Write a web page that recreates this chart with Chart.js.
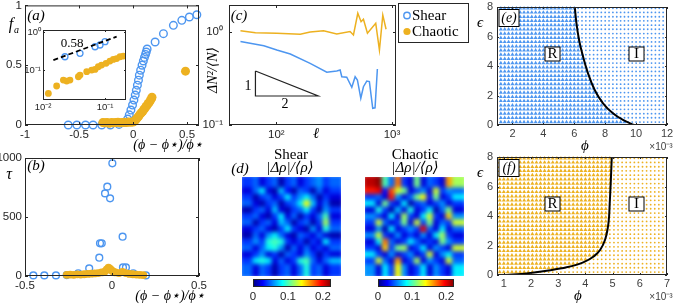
<!DOCTYPE html>
<html><head><meta charset="utf-8">
<script src="https://cdn.jsdelivr.net/npm/chart.js@4.4.1/dist/chart.umd.min.js"></script>
<style>
html,body{margin:0;padding:0;background:#fff;}
#wrap{position:relative;width:690px;height:305px;overflow:hidden;background:#fff;}
#wrap canvas{position:absolute;}
.clip{position:absolute;overflow:hidden;}
.clip canvas{filter:blur(2.1px);}
</style></head>
<body><div id="wrap"></div>
<script>
// ================= DATA =================
const seriesNames = ['Shear', 'Chaotic'];
// (a) main
const aShearX = [-0.60,-0.52,-0.44,-0.37,-0.29,-0.21,-0.13,-0.08,-0.05,-0.035,-0.02,-0.005,0.008,0.02,0.03,0.04,0.05,0.058,0.07,0.083,0.095,0.105,0.115,0.122,0.13,0.204,0.281,0.373,0.451,0.521,0.59];
const aShearY = [0,0,0,0,0,0,0.005,0.02,0.05,0.085,0.125,0.167,0.208,0.25,0.29,0.333,0.375,0.417,0.458,0.5,0.535,0.565,0.59,0.61,0.635,0.694,0.764,0.833,0.875,0.903,0.922];
const aChaosX = [-0.28,-0.26,-0.24,-0.22,-0.20,-0.18,-0.16,-0.14,-0.12,-0.10,-0.08,-0.06,-0.04,-0.02,0.0,0.01,0.02,0.03,0.04,0.05,0.06,0.07,0.08,0.09,0.10,0.11,0.12,0.13,0.14,0.15,0.16,0.17,0.175,0.485];
const aChaosY = [0.02,0.018,0.02,0.015,0.02,0.018,0.02,0.022,0.018,0.02,0.022,0.02,0.025,0.022,0.025,0.03,0.04,0.05,0.06,0.07,0.085,0.095,0.105,0.115,0.13,0.14,0.155,0.165,0.18,0.19,0.205,0.22,0.232,0.45];
const aXTicks = [-1,-0.5,0,0.5], aXLabels = ['-1','-0.5','0','0.5'];
const aYTicks = [0,0.5,1], aYLabels = ['0','0.5','1'];
// (a) inset
const insShearX = [0.0226,0.0395,0.069,0.083,0.1];
const insShearY = [0.224,0.275,0.41,0.455,0.557];
const insChaosX = [0.0122,0.0166,0.0213,0.0241,0.0272,0.0372,0.0395,0.0507,0.061,0.069,0.078,0.088,0.104,0.12,0.136,0.154,0.175,0.197];
const insChaosY = [0.0243,0.038,0.0546,0.0514,0.0546,0.0667,0.0738,0.0904,0.1,0.104,0.122,0.135,0.15,0.172,0.19,0.2,0.224,0.233];
const insFitX = [0.0147,0.154], insFitY = [0.183,0.753];
const insFitLabel = '0.58';
const insXTicks = [0.01,0.1], insXLabels = ['10⁻²','10⁻¹'];
const insYTicks = [0.1,1], insYLabels = ['10⁻¹','10⁰'];
// (b)
const bShearX = [-0.452,-0.389,-0.322,-0.26,-0.194,-0.131,-0.073,-0.069,-0.059,-0.040,-0.027,-0.011,0.002,0.061,0.063,0.080,0.122,0.195];
const bShearY = [5,5,5,8,23,65,155,277,277,700,757,658,955,333,73,73,23,5];
const bChaosX = [-0.26,-0.24,-0.22,-0.20,-0.18,-0.16,-0.14,-0.12,-0.10,-0.08,-0.06,-0.04,-0.03,-0.02,-0.01,0,0.01,0.02,0.04,0.06,0.08,0.10,0.12,0.14,0.16,0.18];
const bChaosY = [10,12,10,14,12,15,18,20,22,25,30,40,55,70,60,45,35,30,25,35,25,18,15,12,10,8];
const bXTicks = [-0.5,0,0.5], bXLabels = ['-0.5','0','0.5'];
const bYTicks = [0,500,1000], bYLabels = ['0','500','1000'];
// (c)
const cShearX = [49,78,101,132,196,273,333,356,368,406,449,480,502,537,566,605,637,681,713,747];
const cShearY = [0.79,0.71,0.64,0.58,0.46,0.37,0.38,0.39,0.33,0.326,0.254,0.33,0.305,0.194,0.258,0.297,0.293,0.151,0.153,0.40];
const cChaosX = [49,66,101,161,196,256,333,434,464,506,540,566,613,723,778,832,888];
const cChaosY = [1.03,0.98,0.97,0.945,1.0,1.03,0.95,1.01,0.93,1.59,1.29,1.37,0.97,1.24,0.64,1.52,1.07];
const cTriX = [66,66,230,66], cTriY = [0.381,0.205,0.205,0.381];
const cXTicks = [100,1000], cXLabels = ['10²','10³'];
const cYTicks = [0.1,1], cYLabels = ['10⁻¹','10⁰'];
// (d) density maps (values in units of 0.01)
const shearMap = [
 [4,5,2,4,5,1,4,5,2,4,5,6,4,5],
 [2,5,8,2,1,7,3,1,5,4,1,5,2,4],
 [4,1,4,5,2,4,8,4,6,8,5,1,4,2],
 [5,2,1,4,5,1,4,5,8,14,7,2,5,1],
 [1,4,5,2,7,2,1,4,5,8,4,1,6,4],
 [4,5,2,1,4,8,2,5,1,4,2,5,10,2],
 [5,1,4,5,2,7,5,1,4,5,1,4,12,4],
 [2,4,5,2,1,4,8,4,2,1,6,2,9,5],
 [1,5,2,6,8,5,2,1,5,4,2,5,2,1],
 [4,6,4,9,10,9,4,2,4,1,4,2,8,4],
 [5,2,5,8,9,6,1,5,2,5,2,4,2,5],
 [2,4,6,2,4,1,5,4,2,6,4,1,4,2],
 [4,8,9,8,2,5,2,4,9,10,5,2,5,7],
 [5,2,5,4,1,4,5,2,5,9,4,5,2,4]];
const chaosMap = [
 [21,22,10,5,17,4,2,11,2,5,4,2,16,12],
 [19,20,3,18,13,11,2,4,6,2,13,4,6,5],
 [4,5,2,19,6,2,5,11,14,3,11,2,4,8],
 [8,2,11,4,2,8,1,4,5,2,4,6,2,4],
 [2,9,4,1,7,2,9,2,4,8,1,5,11,2],
 [6,4,2,8,2,12,4,2,8,13,4,2,15,6],
 [4,13,5,2,4,11,2,13,4,11,2,5,4,13],
 [2,6,1,8,2,4,6,4,20,5,2,8,2,5],
 [6,13,4,2,6,2,4,2,6,2,8,12,4,2],
 [2,8,17,5,2,4,8,5,2,4,2,11,6,4],
 [4,2,15,4,11,12,2,4,8,2,6,4,2,13],
 [8,4,2,6,2,4,6,2,4,13,2,6,8,4],
 [4,13,5,2,16,2,4,12,2,6,4,2,13,5],
 [6,2,8,4,14,6,2,4,8,2,6,4,2,8]];
const cbMax = 0.223;
const cbTicks = [0,0.1,0.2], cbLabels = ['0','0.1','0.2'];
// (e) phase diagram, shear
const ePhi = [1.25,1.5,1.75,2,2.25,2.5,2.75,3,3.25,3.5,3.75,4,4.25,4.5,4.75,5,5.25,5.5,5.75,6,6.25,6.5,6.75,7,7.25,7.5,7.75,8,8.25,8.5,8.75,9,9.25,9.5,9.75,10,10.25,10.5,10.75,11,11.25,11.5,11.75];
const eEps = [0.2,0.49,0.77,1.06,1.34,1.63,1.91,2.2,2.49,2.77,3.06,3.34,3.63,3.91,4.2,4.49,4.77,5.06,5.34,5.63,5.91,6.2,6.49,6.77,7.06,7.34,7.63,7.91];
const eBound = [9.45,8.93,8.53,8.22,7.97,7.76,7.59,7.42,7.27,7.16,7.06,6.95,6.85,6.77,6.69,6.61,6.54,6.47,6.40,6.34,6.29,6.24,6.19,6.16,6.12,6.09,6.06,6.04];
const eCurvePhi = [6.03,6.14,6.31,6.57,6.89,7.32,7.86,8.5,9.15,9.85];
const eCurveEps = [8.0,6.9,5.76,4.63,3.5,2.37,1.47,0.79,0.34,0];
const eXTicks = [2,4,6,8,10,12], eXLabels = ['2','4','6','8','10','12'];
// (f) phase diagram, chaotic
const fPhi = [0.85,1,1.15,1.3,1.45,1.6,1.75,1.9,2.05,2.2,2.35,2.5,2.65,2.8,2.95,3.1,3.25,3.4,3.55,3.7,3.85,4,4.15,4.3,4.45,4.6,4.75,4.9,5.05,5.2,5.35,5.5,5.65,5.8,5.95,6.1,6.25,6.4,6.55,6.7,6.85];
const fEps = eEps;
const fBound = [2.2,3.22,3.76,4.12,4.35,4.51,4.6,4.68,4.74,4.77,4.81,4.83,4.85,4.87,4.88,4.88,4.89,4.9,4.9,4.91,4.92,4.93,4.93,4.94,4.95,4.95,4.96,4.97];
const fCurvePhi = [1.11,1.84,2.58,3.31,3.92,4.29,4.54,4.72,4.81,4.87,4.90,4.93,4.97];
const fCurveEps = [0,0.11,0.29,0.52,0.86,1.24,1.69,2.37,3.05,3.95,5.08,6.19,8.0];
const fXTicks = [1,2,3,4,5,6,7], fXLabels = ['1','2','3','4','5','6','7'];
const peYTicks = [0,2,4,6,8], peYLabels = ['0','2','4','6','8'];

// ================= SETUP =================
const W = 690, H = 305;
const SANS = '"Liberation Sans", Arial, Helvetica, sans-serif';
const SERIF = '"Liberation Serif", "Times New Roman", "DejaVu Serif", serif';
const BLUE = '#4d96f0', ORANGE = '#edb120', AXC = '#262626';
Chart.defaults.animation = false;
Chart.defaults.responsive = false;
Chart.defaults.events = [];
Chart.defaults.plugins.legend.display = false;
Chart.defaults.plugins.tooltip.enabled = false;
const wrap = document.getElementById('wrap');
const zip = (xs, ys) => xs.map((x, i) => ({x, y: ys[i]}));

function addCanvas(w, h, parent, l, t) {
  const c = document.createElement('canvas');
  c.width = w; c.height = h; c.style.width = w + 'px'; c.style.height = h + 'px';
  c.style.left = (l || 0) + 'px'; c.style.top = (t || 0) + 'px';
  (parent || wrap).appendChild(c);
  return c;
}
function jet(t) {
  t = Math.max(0, Math.min(1, t));
  const cl = v => Math.max(0, Math.min(1, v));
  const r = cl(1.5 - Math.abs(4 * t - 3)), g = cl(1.5 - Math.abs(4 * t - 2)), b = cl(1.5 - Math.abs(4 * t - 1));
  return 'rgb(' + Math.round(r * 255) + ',' + Math.round(g * 255) + ',' + Math.round(b * 255) + ')';
}
// axis: fixed box size (read from canvas dataset) so the plot area lands exactly where wanted
function ax(type, min, max, ticks, labels, extra) {
  const o = {type, min, max, bounds: 'data',
    afterBuildTicks: s => { s.ticks = ticks.map(v => ({value: v})); },
    afterFit: s => { const d = s.chart.canvas.dataset;
      if (s.isHorizontal()) s.height = +d.xh; else s.width = +d.yw;
      s.paddingLeft = 0; s.paddingRight = 0; s.paddingTop = 0; s.paddingBottom = 0; },
    grid: {display: false, drawTicks: false}, border: {display: false},
    ticks: {autoSkip: false, maxRotation: 0, minRotation: 0, padding: 3, color: AXC,
      font: {family: SANS, size: 11.5}, callback: (v, i) => labels[i]}};
  if (extra) {
    if (extra.ticks) { Object.assign(o.ticks, extra.ticks); }
    for (const k in extra) if (k !== 'ticks') o[k] = extra[k];
  }
  return o;
}
// frame + inward tick marks
const boxPlugin = {id: 'box',
  beforeDatasetsDraw(chart, args, o) {
    if (!o || !o.bg) return;
    const a = chart.chartArea, ctx = chart.ctx;
    ctx.save(); ctx.fillStyle = o.bg; ctx.fillRect(a.left, a.top, a.width, a.height); ctx.restore();
  },
  afterDatasetsDraw(chart, args, o) {
    if (!o || !o.on) return;
    const a = chart.chartArea, ctx = chart.ctx, L = o.len || 0;
    ctx.save(); ctx.strokeStyle = o.color || AXC; ctx.lineWidth = 1;
    ctx.strokeRect(a.left + 0.5, a.top + 0.5, a.width - 1, a.height - 1);
    if (L) {
      ctx.beginPath();
      const sx = chart.scales.x, sy = chart.scales.y;
      sx.ticks.forEach(t => { const p = Math.round(sx.getPixelForValue(t.value)) + 0.5;
        ctx.moveTo(p, a.bottom); ctx.lineTo(p, a.bottom - L); ctx.moveTo(p, a.top); ctx.lineTo(p, a.top + L); });
      sy.ticks.forEach(t => { const p = Math.round(sy.getPixelForValue(t.value)) + 0.5;
        ctx.moveTo(a.left, p); ctx.lineTo(a.left + L, p); ctx.moveTo(a.right, p); ctx.lineTo(a.right - L, p); });
      ctx.stroke();
    }
    ctx.restore();
  }};
// annotation texts
const txtPlugin = {id: 'txt',
  afterDraw(chart, args, o) {
    if (!o || !o.items) return;
    const ctx = chart.ctx;
    for (const it of o.items) {
      ctx.save(); ctx.font = it.f; ctx.textAlign = it.a || 'center'; ctx.textBaseline = 'middle';
      ctx.translate(it.x, it.y); if (it.r) ctx.rotate(it.r);
      if (it.bw) { ctx.fillStyle = '#fff'; ctx.strokeStyle = '#000'; ctx.lineWidth = 1;
        ctx.fillRect(-it.bw / 2, -it.bh / 2, it.bw, it.bh); ctx.strokeRect(-it.bw / 2, -it.bh / 2, it.bw, it.bh); }
      ctx.fillStyle = it.c || '#000'; ctx.fillText(it.t, 0, it.dy || 0); ctx.restore();
    }
  }};
// legend of panel (c)
const lgPlugin = {id: 'lg',
  afterDraw(chart, args, o) {
    if (!o || !o.on) return;
    const ctx = chart.ctx;
    ctx.save(); ctx.fillStyle = '#fff'; ctx.strokeStyle = AXC; ctx.lineWidth = 1;
    ctx.fillRect(398.5, 3.5, 70, 39); ctx.strokeRect(398.5, 3.5, 70, 39);
    ctx.beginPath(); ctx.arc(407, 15.5, 3.2, 0, 2 * Math.PI); ctx.strokeStyle = BLUE; ctx.lineWidth = 1.4; ctx.stroke();
    ctx.beginPath(); ctx.arc(407, 31.5, 3.6, 0, 2 * Math.PI); ctx.fillStyle = ORANGE; ctx.fill();
    ctx.fillStyle = '#000'; ctx.font = '15px ' + SERIF; ctx.textAlign = 'left'; ctx.textBaseline = 'middle';
    ctx.fillText(seriesNames[0], 412, 16); ctx.fillText(seriesNames[1], 412, 32);
    ctx.restore();
  }};
Chart.register(boxPlugin, txtPlugin, lgPlugin);

// area = plot rectangle [left, top, right, bottom] in page pixels
function mk(area, cfg, noY) {
  const c = addCanvas(W, H);
  const yw = noY ? 0 : Math.min(area[0], 48);
  const xh = Math.min(H - area[3], 22);
  c.dataset.yw = yw; c.dataset.xh = xh;
  cfg.options = cfg.options || {};
  cfg.options.layout = {padding: {left: area[0] - yw, top: area[1], right: W - area[2], bottom: H - area[3] - xh}};
  return new Chart(c, cfg);
}
const IT = (t, x, y, f, extra) => Object.assign({t, x, y, f}, extra || {});

// ================= (a) =================
mk([25, 5, 199, 125], {type: 'scatter',
  data: {datasets: [
    {data: zip(aChaosX, aChaosY), pointRadius: 4.5, backgroundColor: ORANGE, borderWidth: 0, clip: false},
    {data: zip(aShearX, aShearY), pointRadius: 3.8, borderColor: BLUE, borderWidth: 1.4, backgroundColor: 'rgba(0,0,0,0)', clip: false}]},
  options: {scales: {x: ax('linear', -1, 0.61, aXTicks, aXLabels), y: ax('linear', 0, 1, aYTicks, aYLabels)},
    plugins: {box: {on: true, len: 3}, txt: {items: [
      IT('(a)', 36, 16, 'italic 15px ' + SERIF),
      IT('f', 11, 25, 'italic 16px ' + SERIF), IT('a', 16.5, 30, 'italic 10px ' + SERIF),
      IT('(ϕ − ϕ⋆)/ϕ⋆', 168, 145, 'italic 14px ' + SERIF)]}}}});
// inset
mk([43, 30, 126, 100], {type: 'scatter',
  data: {datasets: [
    {data: zip(insFitX, insFitY), showLine: true, borderColor: '#000', borderWidth: 1.8, borderDash: [5, 3], pointRadius: 0},
    {data: zip(insChaosX, insChaosY), pointRadius: 3.4, backgroundColor: ORANGE, borderWidth: 0},
    {data: zip(insShearX, insShearY), pointRadius: 3, borderColor: BLUE, borderWidth: 1.3, backgroundColor: 'rgba(0,0,0,0)'}]},
  options: {scales: {
      x: ax('logarithmic', 0.01, 0.218, insXTicks, insXLabels, {ticks: {font: {family: SANS, size: 9.5}, padding: 2}}),
      y: ax('logarithmic', 0.0163, 1.13, insYTicks, insYLabels, {ticks: {font: {family: SANS, size: 9.5}, padding: 2}})},
    plugins: {box: {on: true, len: 2, bg: '#fff'}, txt: {items: [IT(insFitLabel, 72, 44, '13px ' + SERIF)]}}}});

// ================= (b) =================
mk([25, 158, 199, 276], {type: 'scatter',
  data: {datasets: [
    {data: zip(bChaosX, bChaosY), pointRadius: 3.9, backgroundColor: ORANGE, borderWidth: 0, clip: false},
    {data: zip(bShearX, bShearY), pointRadius: 3.4, borderColor: BLUE, borderWidth: 1.4, backgroundColor: 'rgba(0,0,0,0)', clip: false}]},
  options: {scales: {x: ax('linear', -0.5, 0.5, bXTicks, bXLabels), y: ax('linear', 0, 1000, bYTicks, bYLabels)},
    plugins: {box: {on: true, len: 3}, txt: {items: [
      IT('(b)', 36, 166, 'italic 15px ' + SERIF),
      IT('τ', 9, 175, 'italic 16px ' + SERIF),
      IT('(ϕ − ϕ⋆)/ϕ⋆', 170, 296, 'italic 14px ' + SERIF)]}}}});

// ================= (c) =================
mk([229, 5, 396, 125], {type: 'scatter',
  data: {datasets: [
    {data: zip(cTriX, cTriY), showLine: true, borderColor: '#222', borderWidth: 1.2, pointRadius: 0},
    {data: zip(cChaosX, cChaosY), showLine: true, borderColor: ORANGE, borderWidth: 1.5, pointRadius: 0},
    {data: zip(cShearX, cShearY), showLine: true, borderColor: BLUE, borderWidth: 1.5, pointRadius: 0}]},
  options: {scales: {
      x: ax('logarithmic', 39, 1082, cXTicks, cXLabels, {ticks: {padding: 3}}),
      y: ax('logarithmic', 0.1, 1.95, cYTicks, cYLabels, {ticks: {padding: 6}})},
    plugins: {box: {on: true, len: 3}, lg: {on: true}, txt: {items: [
      IT('(c)', 239, 16, 'italic 15px ' + SERIF),
      IT('ΔN²/⟨N⟩', 213, 70, 'italic 14px ' + SERIF, {r: -Math.PI / 2}),
      IT('ℓ', 316, 134, 'italic 15px ' + SERIF),
      IT('1', 248, 86, '14px ' + SERIF), IT('2', 285, 104, '14px ' + SERIF)]}}}});

// ================= (d) =================
function heat(grid, left, top, size) {
  const div = document.createElement('div'); div.className = 'clip';
  div.style.left = left + 'px'; div.style.top = top + 'px'; div.style.width = size + 'px'; div.style.height = size + 'px';
  wrap.appendChild(div);
  const n = grid.length, cell = size / n, S = Math.round(size + 2 * cell);
  const c = addCanvas(S, S, div, -cell, -cell);
  const pts = [], cols = [];
  for (let j = -1; j <= n; j++) for (let i = -1; i <= n; i++) {
    const v = grid[Math.min(n - 1, Math.max(0, j))][Math.min(n - 1, Math.max(0, i))];
    pts.push({x: i, y: j}); cols.push(jet(v / 100 / cbMax));
  }
  new Chart(c, {type: 'scatter',
    data: {datasets: [{data: pts, pointStyle: 'rect', pointRadius: cell / 1.4142 + 0.6, backgroundColor: cols, borderWidth: 0, clip: false}]},
    options: {layout: {padding: 0}, scales: {x: {display: false, min: -1.5, max: n + 0.5}, y: {display: false, min: -1.5, max: n + 0.5, reverse: true}}}});
}
heat(shearMap, 242, 177, 99);
heat(chaosMap, 365, 177, 99);
function colorbar(area, items) {
  mk(area, {type: 'bar',
    data: {labels: ['cb'], datasets: [{data: [[0, cbMax]], barPercentage: 1, categoryPercentage: 1, borderWidth: 0,
      backgroundColor: ctx => { const a = ctx.chart.chartArea; if (!a) return '#00f';
        const g = ctx.chart.ctx.createLinearGradient(a.left, 0, a.right, 0);
        [0, 0.125, 0.375, 0.625, 0.875, 1].forEach(s => g.addColorStop(s, jet(s))); return g; }}]},
    options: {indexAxis: 'y', scales: {x: ax('linear', 0, cbMax, cbTicks, cbLabels, {ticks: {padding: 3}}), y: {display: false}},
      plugins: {box: {on: true, len: 0}, txt: {items: items}}}}, true);
}
colorbar([253, 279, 331, 287], [
  IT('(d)', 240, 169, 'italic 15px ' + SERIF),
  IT(seriesNames[0], 291, 155, '15px ' + SERIF),
  IT('|Δρ|/⟨ρ⟩', 290, 168, 'italic 15px ' + SERIF),
  IT(seriesNames[1], 415, 155, '15px ' + SERIF),
  IT('|Δρ|/⟨ρ⟩', 415, 168, 'italic 15px ' + SERIF)]);
colorbar([378, 279, 454, 287], []);

// ================= (e), (f) =================
function phase(phis, epss, bound) {
  const R = [], I = [];
  epss.forEach((e, j) => phis.forEach(p => { (p < bound[j] ? R : I).push({x: p, y: e}); }));
  return [R, I];
}
function phaseChart(area, phis, epss, bound, cPhi, cEps, color, xmin, xmax, xt, xl, tag, ty) {
  const [R, I] = phase(phis, epss, bound);
  mk(area, {type: 'scatter',
    data: {datasets: [
      {data: zip(cPhi, cEps), showLine: true, borderColor: '#000', borderWidth: 2, pointRadius: 0, cubicInterpolationMode: 'monotone'},
      {data: R, pointStyle: 'triangle', pointRadius: 2.3, backgroundColor: color, borderWidth: 0, clip: false},
      {data: I, pointRadius: 0.9, backgroundColor: color, borderWidth: 0, clip: false}]},
    options: {scales: {
        x: ax('linear', xmin, xmax, xt, xl, {ticks: {padding: 2, color: '#404040', font: {family: SANS, size: 11}}}),
        y: ax('linear', 0, 8, peYTicks, peYLabels, {ticks: {padding: 4, color: '#404040', font: {family: SANS, size: 11}}})},
      plugins: {box: {on: true, len: 2}, txt: {items: [
        IT(tag, 509, area[1] + 11, 'italic 14px ' + SERIF, {bw: 20, bh: 17}),
        IT('R', 552.5, area[1] + 47, '15px ' + SERIF, {bw: 15, bh: 14}),
        IT('I', 636.5, area[1] + 47, '15px ' + SERIF, {bw: 15, bh: 14}),
        IT('ϵ', 480, area[1] + 16, 'italic 15px ' + SERIF),
        IT('ϕ', ty[0], ty[1], 'italic 15px ' + SERIF),
        IT('×10⁻³', 661, ty[1] + 1, '10px ' + SANS, {c: '#404040'})]}}}});
}
phaseChart([497, 7, 667, 125], ePhi, eEps, eBound, eCurvePhi.slice().reverse(), eCurveEps.slice().reverse(), BLUE, 1, 12, eXTicks, eXLabels, '(e)', [585, 146]);
phaseChart([497, 157, 667, 275], fPhi, fEps, fBound, fCurvePhi, fCurveEps, ORANGE, 0.75, 7, fXTicks, fXLabels, '(f)', [578, 296]);
</script></body></html>
